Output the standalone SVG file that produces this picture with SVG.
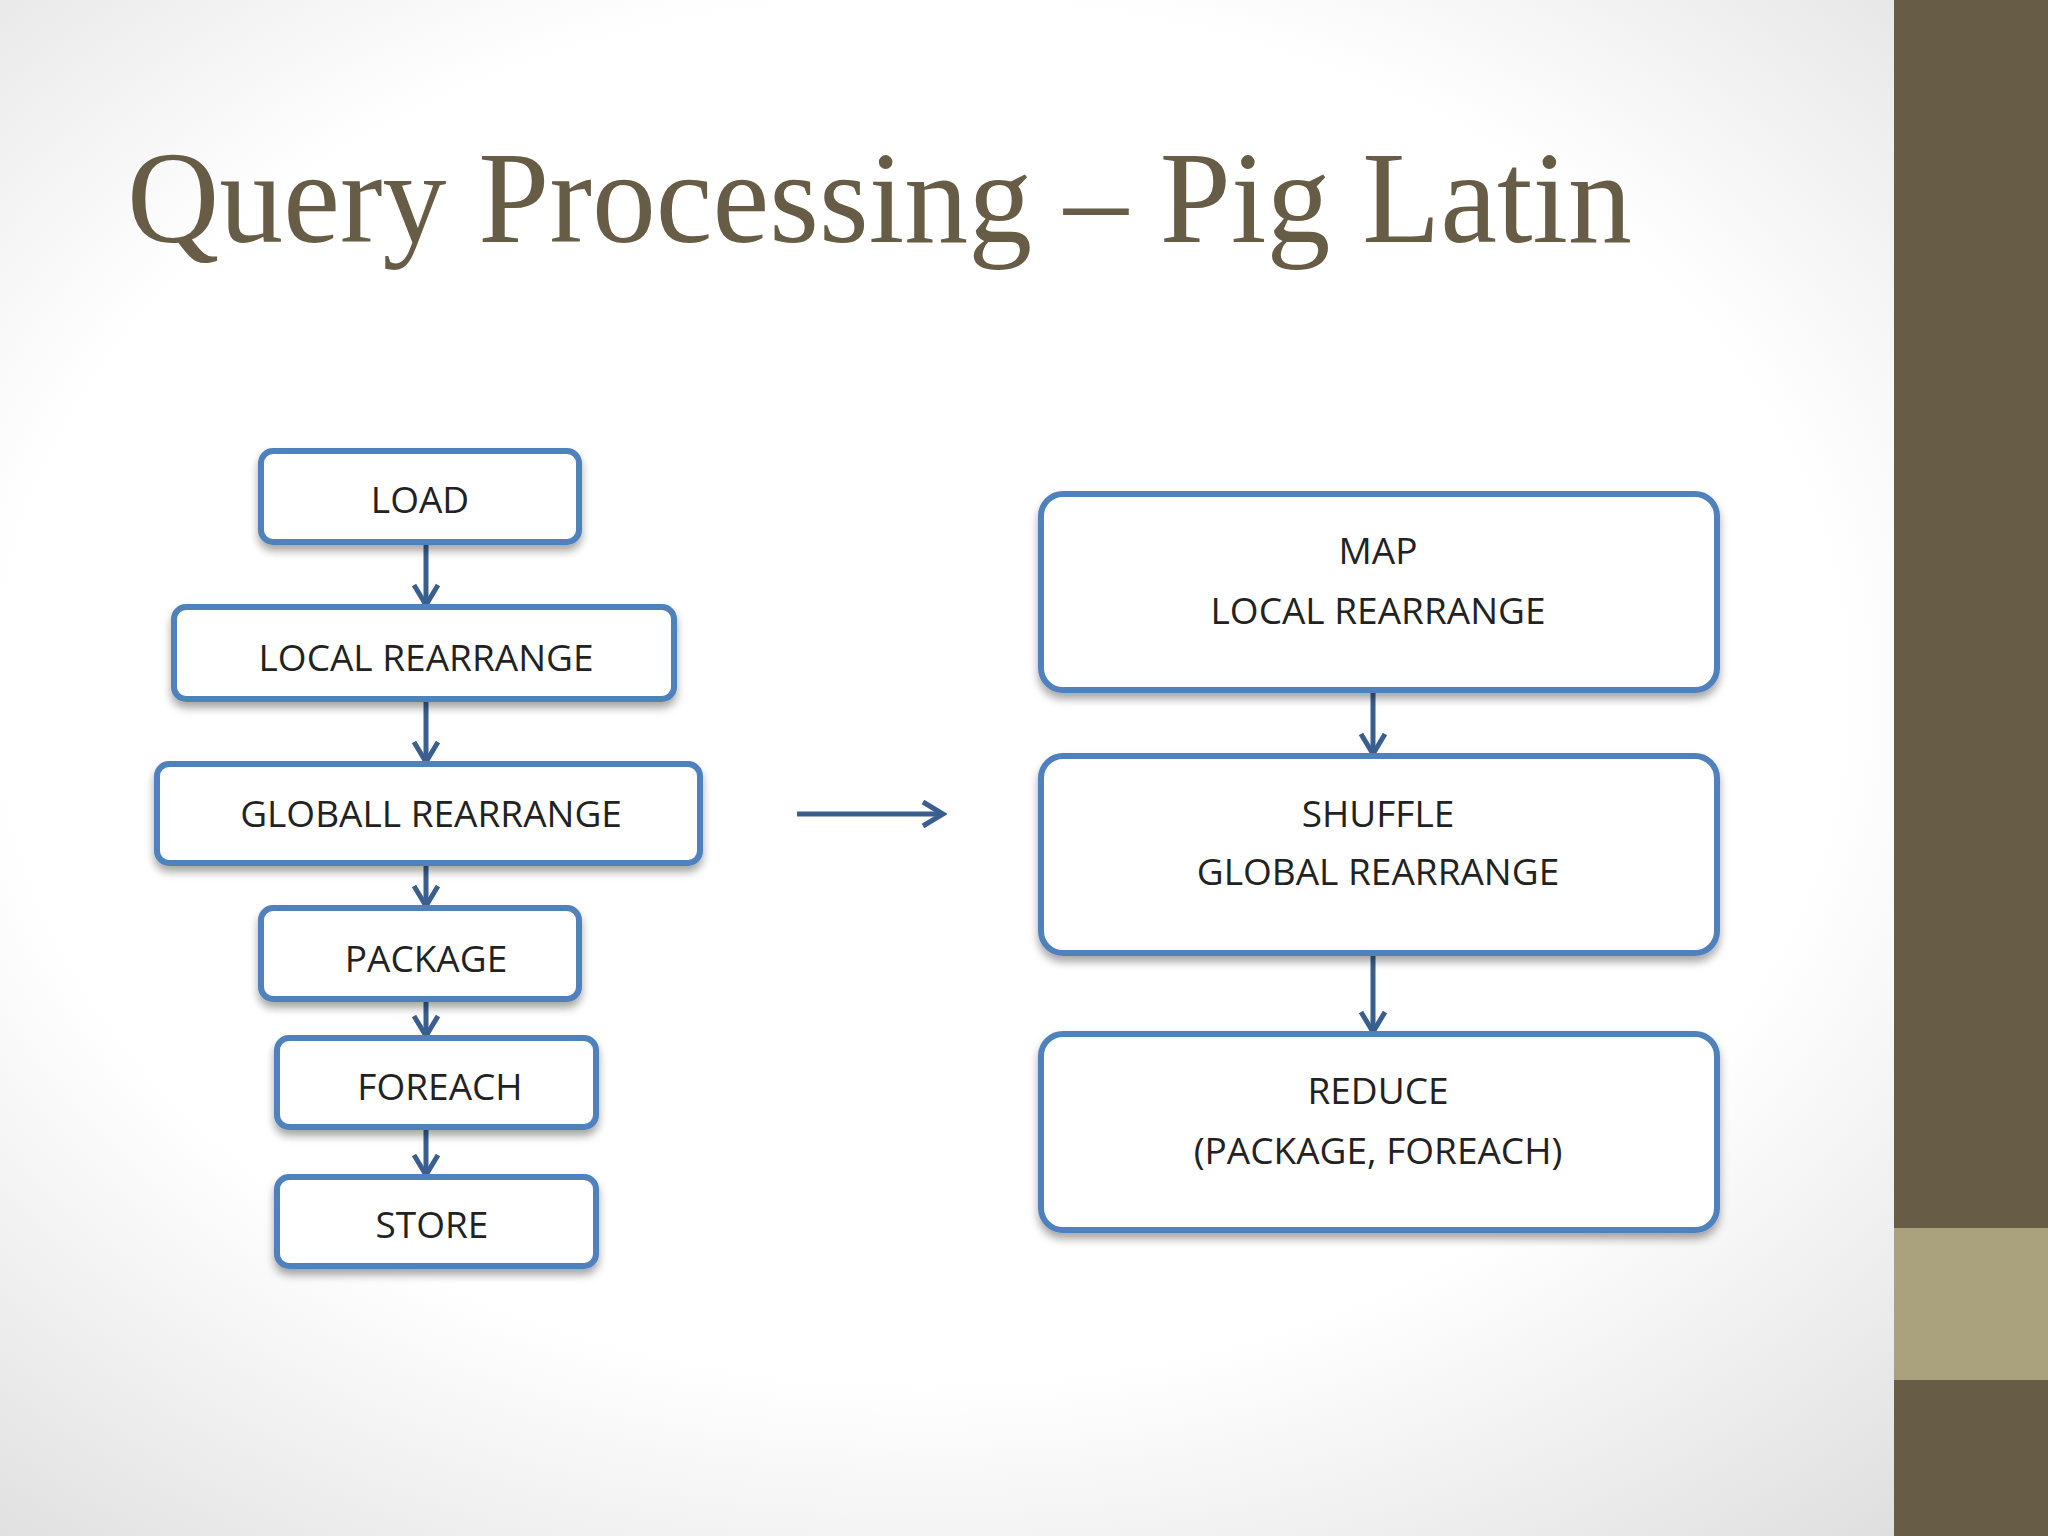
<svg xmlns="http://www.w3.org/2000/svg" width="2048" height="1536" viewBox="0 0 2048 1536">
<defs>
<radialGradient id="bg" cx="0.45" cy="0.45" r="0.75">
<stop offset="0.6" stop-color="#ffffff"/><stop offset="1" stop-color="#dcdcdc"/>
</radialGradient>
<filter id="sh" x="-10%" y="-10%" width="120%" height="140%"><feDropShadow dx="0" dy="6" stdDeviation="4" flood-color="#000" flood-opacity="0.35"/></filter>
<marker id="ah" viewBox="0 0 30 30" refX="26" refY="15" markerWidth="30" markerHeight="30" markerUnits="userSpaceOnUse" orient="auto"><path d="M6,3 L26,15 L6,27" fill="none" stroke="#3A5F8F" stroke-width="5"/></marker>
</defs>
<style>
.b{fill:#fff;stroke:#4F81BD;stroke-width:6;filter:url(#sh)}
.t{font-family:"Open Sans","Liberation Sans",sans-serif;font-size:37px;fill:#222;text-anchor:middle}
.c{stroke:#3A5F8F;stroke-width:5;fill:none;marker-end:url(#ah)}
</style>
<rect width="2048" height="1536" fill="url(#bg)"/>
<rect x="1894" y="0" width="154" height="1536" fill="#675C45"/>
<rect x="1894" y="1228" width="154" height="152" fill="#A9A27C"/>
<text x="127" y="242" font-family="Liberation Serif,serif" font-size="132" fill="#675C45" textLength="1505" lengthAdjust="spacingAndGlyphs">Query Processing – Pig Latin</text>
<g id="connectors">
<line class="c" x1="426" y1="542" x2="426" y2="605"/>
<line class="c" x1="426" y1="699" x2="426" y2="762"/>
<line class="c" x1="426" y1="863" x2="426" y2="906"/>
<line class="c" x1="426" y1="999" x2="426" y2="1036"/>
<line class="c" x1="426" y1="1127" x2="426" y2="1175"/>
<line class="c" x1="797" y1="814" x2="943" y2="814"/>
<line class="c" x1="1373" y1="690" x2="1373" y2="754"/>
<line class="c" x1="1373" y1="953" x2="1373" y2="1032"/>
</g>
<g id="load"><rect class="b" x="261" y="451" width="318" height="91" rx="12"/><text class="t" x="420" y="513">LOAD</text></g>
<g id="local"><rect class="b" x="174" y="607" width="500" height="92" rx="12"/><text class="t" x="426" y="671">LOCAL REARRANGE</text></g>
<g id="global"><rect class="b" x="157" y="764" width="543" height="99" rx="12"/><text class="t" x="431" y="827">GLOBALL REARRANGE</text></g>
<g id="package"><rect class="b" x="261" y="908" width="318" height="91" rx="12"/><text class="t" x="426" y="972">PACKAGE</text></g>
<g id="foreach"><rect class="b" x="277" y="1038" width="319" height="89" rx="12"/><text class="t" x="440" y="1100">FOREACH</text></g>
<g id="store"><rect class="b" x="277" y="1177" width="319" height="89" rx="12"/><text class="t" x="432" y="1238">STORE</text></g>
<g id="map"><rect class="b" x="1041" y="494" width="676" height="196" rx="22"/><text class="t" x="1378" y="564">MAP</text><text class="t" x="1378" y="624">LOCAL REARRANGE</text></g>
<g id="shuffle"><rect class="b" x="1041" y="756" width="676" height="197" rx="22"/><text class="t" x="1378" y="827">SHUFFLE</text><text class="t" x="1378" y="885">GLOBAL REARRANGE</text></g>
<g id="reduce"><rect class="b" x="1041" y="1034" width="676" height="196" rx="22"/><text class="t" x="1378" y="1104">REDUCE</text><text class="t" x="1378" y="1164">(PACKAGE, FOREACH)</text></g>
</svg>
